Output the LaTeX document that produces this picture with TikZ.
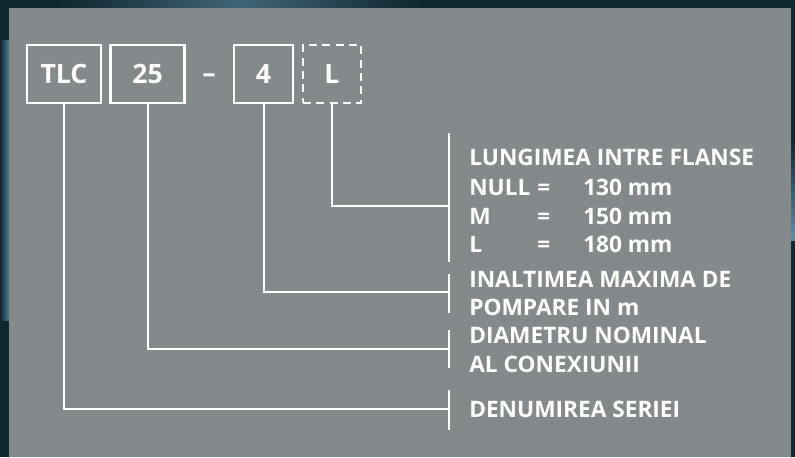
\documentclass[tikz,border=0pt]{standalone}
\usepackage{fontspec}
\setmainfont{Open Sans}
\definecolor{panel}{HTML}{848A8B}
\definecolor{outer}{HTML}{10262F}
\definecolor{swirl}{HTML}{5E8FA6}
\begin{document}
\begin{tikzpicture}[x=0.75pt,y=-0.75pt,
  codebox/.style={draw=white,line width=1.9pt,minimum width=55.5pt,minimum height=43.5pt,inner sep=0pt,text=white,font=\bfseries\fontsize{20}{20}\selectfont},
  conn/.style={draw=white,line width=1.5pt},
  bar/.style={draw=white,line width=1.5pt},
  lbl/.style={anchor=base west,inner sep=0pt,text=white,font=\bfseries\fontsize{17}{17}\selectfont}]
\useasboundingbox (0,0) rectangle (795,457);
% background
\fill[outer] (0,0) rectangle (795,457);
\shade[left color=outer,right color=swirl,opacity=0.8] (0,40) rectangle (9,320);
\shade[top color=outer,bottom color=swirl] (795,140) rectangle (791,240);
\shade[left color=outer,right color=outer,middle color=swirl!60!outer] (60,0) rectangle (420,8);
\fill[panel] (9,8) rectangle (791,457);
% code boxes
\node[codebox] (tlc) at (64,74) {TLC};
\node[codebox] (n25) at (147.5,74) {25};
\node[anchor=base,text=white,font=\bfseries\fontsize{20}{20}\selectfont,inner sep=0pt] (dash) at (209,82) {–};
\node[codebox,minimum width=44pt] (n4) at (263.5,74) {4};
\node[codebox,minimum width=43.5pt,dash pattern=on 6pt off 4pt] (nL) at (332,74) {L};
% bars
\draw[bar] (449,133) -- (449,262);
\draw[bar] (449,274) -- (449,313);
\draw[bar] (449,330) -- (449,368);
\draw[bar] (449,390) -- (449,430);
\coordinate (cL) at (449,206);
\coordinate (c4) at (449,292);
\coordinate (c25) at (449,349);
\coordinate (cTLC) at (449,409);
% connectors
\draw[conn] (nL.south) |- (cL);
\draw[conn] (n4.south) |- (c4);
\draw[conn] (n25.south) |- (c25);
\draw[conn] (tlc.south) |- (cTLC);
% labels
\node[lbl] (t1) at (469,165) {LUNGIMEA INTRE FLANSE};
\node[lbl] (t2a) at (469,195) {NULL};
\node[lbl] (t2b) at (537,195) {=};
\node[lbl] (t2c) at (583,195) {130 mm};
\node[lbl] (t3a) at (469,224) {M};
\node[lbl] (t3b) at (537,224) {=};
\node[lbl] (t3c) at (583,224) {150 mm};
\node[lbl] (t4a) at (469,252) {L};
\node[lbl] (t4b) at (537,252) {=};
\node[lbl] (t4c) at (583,252) {180 mm};
\node[lbl] (t5) at (469,287) {INALTIMEA MAXIMA DE};
\node[lbl] (t6) at (469,315) {POMPARE IN m};
\node[lbl] (t7) at (469,343) {DIAMETRU NOMINAL};
\node[lbl] (t8) at (469,372) {AL CONEXIUNII};
\node[lbl] (t9) at (469,417) {DENUMIREA SERIEI};
\end{tikzpicture}
\end{document}
